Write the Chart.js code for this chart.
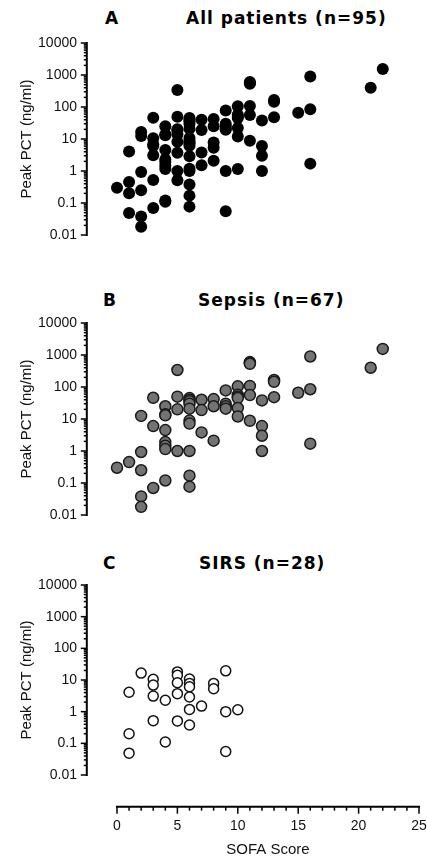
<!DOCTYPE html>
<html>
<head>
<meta charset="utf-8">
<script src="https://cdn.jsdelivr.net/npm/chart.js@4"></script>
<style>
  body { margin: 0; background: #fff; }
  .wrap { position: relative; width: 427px; height: 860px; overflow: hidden; }
  canvas { position: absolute; left: 0; }
  .lbl, .ttl { position: absolute; font-family: "DejaVu Sans", Verdana, sans-serif; font-weight: bold;
    font-size: 17px; line-height: 20px; color: #000; white-space: nowrap; }
  .ttl { letter-spacing: 1px; }
</style>
</head>
<body>
<div class="wrap">
  <div class="lbl" style="left:105px; top:8px">A</div>
  <div class="ttl" style="left:186px; top:8px">All patients (n=95)</div>
  <canvas id="chartA" width="427" height="260" style="top:0"></canvas>

  <div class="lbl" style="left:103px; top:290px">B</div>
  <div class="ttl" style="left:198px; top:290px">Sepsis (n=67)</div>
  <canvas id="chartB" width="427" height="270" style="top:260px"></canvas>

  <div class="lbl" style="left:103px; top:553px">C</div>
  <div class="ttl" style="left:199px; top:553px">SIRS (n=28)</div>
  <canvas id="chartC" width="427" height="330" style="top:530px"></canvas>
</div>

<script>
// SOFA score / peak PCT (panel A = sepsis + SIRS)
const sepsisSofa = [0, 1, 2, 2, 2, 2, 2, 3, 3, 3,
  4, 4, 4, 4, 4, 4, 4, 4,
  5, 5, 5, 5,
  6, 6, 6, 6, 6, 6, 6, 6, 6, 6,
  7, 7, 7, 8, 8, 8, 9, 9, 9, 9,
  10, 10, 10, 10, 10, 10,
  11, 11, 11, 11, 11, 11,
  12, 12, 12, 12, 13, 13, 13, 15, 16, 16, 16, 21, 22];
const sepsisPct = [0.3, 0.45, 12.5, 0.93, 0.25, 0.038, 0.018, 46, 6, 0.07,
  25, 14, 13, 4.5, 1.9, 1.45, 1.15, 0.12,
  340, 50, 20, 1.0,
  45, 40, 36, 30, 21, 8.9, 7.2, 1.0, 0.17, 0.077,
  40, 19, 3.8, 42, 25, 2.1, 78, 30, 25, 21,
  105, 57, 50, 45, 22, 12,
  600, 560, 530, 108, 56, 8.8,
  38, 6, 3, 1.0, 165, 145, 48, 66, 900, 85, 1.7, 400, 1550];

const sirsSofa = [1, 1, 1, 2, 3, 3, 3, 3, 4, 4,
  5, 5, 5, 5, 5, 6, 6, 6, 6, 6, 6,
  7, 8, 8, 9, 9, 9, 10];
const sirsPct = [4.1, 0.2, 0.049, 16.5, 10.5, 6.9, 3.1, 0.52, 2.3, 0.11,
  18, 14, 8.2, 3.7, 0.51, 10.7, 7.8, 6.1, 2.9, 1.18, 0.38,
  1.5, 7.8, 5.3, 19.5, 1.0, 0.055, 1.15];

const yTicks = [0.01, 0.1, 1, 10, 100, 1000, 10000];
const yTickLabels = ['0.01', '0.1', '1', '10', '100', '1000', '10000'];
const xTicks = [0, 5, 10, 15, 20, 25];
const xTickLabels = ['0', '5', '10', '15', '20', '25'];

const yAxisAt = -2.5;   // prism style: y axis sits left of x = 0
const xAxisAt = 0.001;  // and the x axis a decade below 0.01

function pts(xs, ys) {
  return xs.map((x, i) => ({ x: x, y: ys[i] }));
}

// draws the offset axis lines with major/minor tick marks
const prismAxes = {
  id: 'prismAxes',
  afterDraw(chart, args, opts) {
    const ctx = chart.ctx;
    const xs = chart.scales.x, ys = chart.scales.y;
    ctx.save();
    ctx.strokeStyle = '#000';
    ctx.lineCap = 'butt';

    const ax = xs.getPixelForValue(yAxisAt);
    const yTop = ys.getPixelForValue(yTicks[yTicks.length - 1]);
    const yBot = ys.getPixelForValue(yTicks[0]);
    ctx.lineWidth = 2;
    ctx.beginPath();
    ctx.moveTo(ax, yTop - 1);
    ctx.lineTo(ax, yBot + 1);
    ctx.stroke();
    ctx.lineWidth = 1.5;
    yTicks.forEach((t, i) => {
      const p = ys.getPixelForValue(t);
      ctx.beginPath();
      ctx.moveTo(ax, p);
      ctx.lineTo(ax - 6, p);
      ctx.stroke();
      if (i < yTicks.length - 1) {
        for (let k = 2; k < 10; k++) {
          const q = ys.getPixelForValue(t * k);
          ctx.beginPath();
          ctx.moveTo(ax, q);
          ctx.lineTo(ax - 3, q);
          ctx.stroke();
        }
      }
    });

    if (opts.xAxis) {
      const ay = ys.getPixelForValue(xAxisAt);
      const x0 = xs.getPixelForValue(xTicks[0]);
      const x1 = xs.getPixelForValue(xTicks[xTicks.length - 1]);
      ctx.lineWidth = 2;
      ctx.beginPath();
      ctx.moveTo(x0 - 1, ay);
      ctx.lineTo(x1 + 1, ay);
      ctx.stroke();
      ctx.lineWidth = 1.5;
      for (let v = xTicks[0]; v <= xTicks[xTicks.length - 1]; v++) {
        const p = xs.getPixelForValue(v);
        ctx.beginPath();
        ctx.moveTo(p, ay);
        ctx.lineTo(p, ay + (v % 5 === 0 ? 7 : 4));
        ctx.stroke();
      }
    }
    ctx.restore();
  }
};

function makeChart(id, datasets, pad, showX) {
  return new Chart(document.getElementById(id), {
    type: 'scatter',
    data: { datasets: datasets },
    options: {
      responsive: false,
      animation: false,
      layout: { padding: pad },
      plugins: { legend: { display: false }, tooltip: { enabled: false }, prismAxes: { xAxis: showX } },
      scales: {
        x: {
          type: 'linear', min: xTicks[0], max: xTicks[xTicks.length - 1],
          display: showX,
          afterBuildTicks: s => { s.ticks = xTicks.map(v => ({ value: v })); },
          afterFit: s => {
            if (!showX) { s.height = 0; return; }
            s.height = 85;
            s.paddingLeft = 0;
            s.paddingRight = 0;
          },
          grid: { display: false, drawTicks: false },
          border: { display: false },
          ticks: {
            display: showX,
            padding: 43, color: '#111', autoSkip: false, maxRotation: 0,
            font: { family: 'Liberation Sans', size: 14 },
            callback: v => xTickLabels[xTicks.indexOf(v)]
          },
          title: {
            display: showX, text: 'SOFA Score', color: '#111',
            font: { family: 'Liberation Sans', size: 15 },
            padding: { top: 0, bottom: 1 }
          }
        },
        y: {
          type: 'logarithmic', min: yTicks[0], max: yTicks[yTicks.length - 1],
          afterBuildTicks: s => { s.ticks = yTicks.map(v => ({ value: v })); },
          afterFit: s => { s.width = 117; s.paddingTop = 0; s.paddingBottom = 0; },
          grid: { display: false, drawTicks: false },
          border: { display: false },
          ticks: {
            padding: 40, color: '#111', autoSkip: false,
            font: { family: 'Liberation Sans', size: 14 },
            callback: v => yTickLabels[yTicks.indexOf(v)]
          },
          title: {
            display: true, text: 'Peak PCT (ng/ml)', color: '#111',
            font: { family: 'Liberation Sans', size: 15 },
            padding: { top: 18, bottom: 0 }
          }
        }
      }
    },
    plugins: [prismAxes]
  });
}

const black = { backgroundColor: '#000', borderColor: '#000', borderWidth: 0, pointRadius: 6, clip: false };
const grey = { backgroundColor: '#737373', borderColor: '#1a1a1a', borderWidth: 1.5, pointRadius: 5.5, clip: false };
const open = { backgroundColor: '#fff', borderColor: '#111', borderWidth: 1.5, pointRadius: 5, clip: false };

makeChart('chartA', [
  Object.assign({ label: 'Sepsis', data: pts(sepsisSofa, sepsisPct) }, black),
  Object.assign({ label: 'SIRS', data: pts(sirsSofa, sirsPct) }, black)
], { top: 43, bottom: 25, left: 0, right: 8 }, false);

makeChart('chartB', [
  Object.assign({ label: 'Sepsis', data: pts(sepsisSofa, sepsisPct) }, grey)
], { top: 63, bottom: 15, left: 0, right: 8 }, false);

makeChart('chartC', [
  Object.assign({ label: 'SIRS', data: pts(sirsSofa, sirsPct) }, open)
], { top: 55, bottom: 0, left: 0, right: 8 }, true);
</script>
</body>
</html>
